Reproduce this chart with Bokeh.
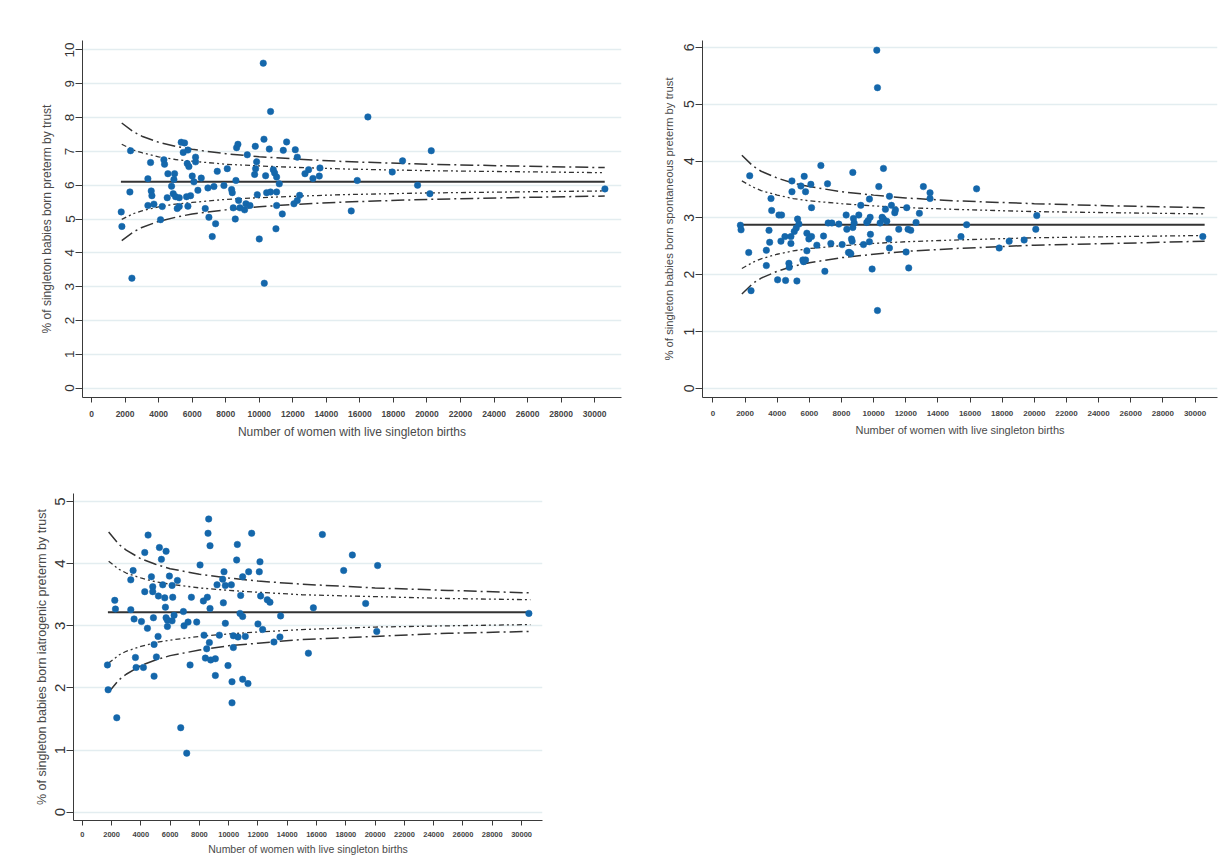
from bokeh.plotting import figure
from bokeh.layouts import column, row
from bokeh.models import FixedTicker, Range1d
from bokeh.embed import file_html
from bokeh.resources import INLINE

# ---------------- data ----------------
x_ticks = [0, 2000, 4000, 6000, 8000, 10000, 12000, 14000, 16000, 18000,
           20000, 22000, 24000, 26000, 28000, 30000]
x_title = "Number of women with live singleton births"

limit_n = [1800, 2500, 3000, 4000, 5000, 6000, 8000, 10000, 12000, 15000, 20000, 25000, 30600]
mean_line_n = [1750, 30600]

# Panel 1: all preterm
p1_title = "% of singleton babies born preterm by trust"
p1_yticks = [0, 1, 2, 3, 4, 5, 6, 7, 8, 9, 10]
p1_n = [10238, 10674, 1769, 1809, 2326, 2286, 2406, 3359, 3518, 3558, 3598, 3359, 3717,
        4114, 4214, 4313, 4353, 4552, 4950, 4910, 4771, 4512, 4870, 5009, 5108, 5228,
        5228, 5347, 5546, 5467, 5745, 5705, 5804, 5665, 5745, 5904, 6003, 6103, 6202,
        6202, 6341, 6540, 6779, 6938, 6998, 7296, 7396, 7197, 7495, 7893, 8092, 8350,
        8390, 8450, 8569, 8609, 8649, 8728, 8768, 8848, 9126, 9206, 9285, 9444, 9723,
        9763, 9783, 9842, 9882, 10001, 10280, 10379, 10439, 10598, 10674, 10836, 10916,
        11035, 10995, 11035, 11035, 11194, 11373, 11432, 11631, 12148, 12267, 12407,
        12267, 12068, 12725, 12943, 13201, 13579, 13619, 15485, 15843, 16478, 18545,
        17930, 20256, 19440, 20175, 30610, 10300]
p1_pct = [9.61, 8.18, 5.21, 4.78, 7.02, 5.80, 3.25, 6.19, 6.67, 5.83, 5.69, 5.40, 5.44,
          4.98, 5.37, 6.75, 6.62, 6.34, 6.34, 6.17, 5.97, 5.63, 5.75, 5.66, 5.31, 5.63,
          5.37, 7.27, 7.25, 6.97, 7.04, 6.64, 6.55, 5.66, 5.38, 5.69, 6.27, 6.10, 6.83,
          6.69, 5.85, 6.21, 5.31, 5.92, 5.05, 5.96, 4.86, 4.48, 6.41, 5.99, 6.49, 5.87,
          5.78, 5.33, 5.00, 6.14, 7.11, 7.21, 5.55, 5.33, 5.27, 5.45, 6.90, 5.40, 6.32,
          7.15, 6.49, 6.69, 5.72, 4.41, 7.36, 6.28, 5.78, 7.07, 5.80, 6.46, 6.36,
          6.24, 4.71, 5.80, 5.40, 6.04, 5.15, 7.03, 7.28, 7.05, 6.83, 5.70,
          5.55, 5.45, 6.34, 6.46, 6.20, 6.27, 6.51, 5.24, 6.14, 8.02, 6.72,
          6.39, 7.02, 6.00, 5.75, 5.89, 3.10]
p1_mean = 6.1
p1_up998 = [7.84, 7.58, 7.45, 7.27, 7.15, 7.06, 6.93, 6.84, 6.78, 6.70, 6.62, 6.57, 6.52]
p1_lo998 = [4.36, 4.62, 4.75, 4.93, 5.05, 5.15, 5.27, 5.36, 5.43, 5.50, 5.58, 5.63, 5.68]
p1_up95 = [7.21, 7.04, 6.96, 6.84, 6.76, 6.71, 6.62, 6.57, 6.53, 6.48, 6.43, 6.40, 6.37]
p1_lo95 = [4.99, 5.16, 5.24, 5.36, 5.44, 5.49, 5.58, 5.63, 5.67, 5.72, 5.77, 5.80, 5.83]

# Panel 2: spontaneous preterm
p2_title = "% of singleton babies born spontaneous preterm by trust"
p2_yticks = [0, 1, 2, 3, 4, 5, 6]
p2_n = [10197, 10238, 1708, 1749, 2288, 2226, 2371, 3613, 3655, 3489, 3530, 3323, 3323,
        4024, 4521, 5225, 4107, 4272, 4231, 4479, 4728, 4748, 4917, 4917, 4852, 4852,
        5059, 5183, 5266, 5349, 5473, 5680, 5763, 5598, 5763, 5639, 5846, 5846, 5970,
        6094, 6136, 6136, 6467, 6716, 6882, 6965, 7131, 7172, 7400, 7338, 7834, 8041,
        8290, 8331, 8435, 8497, 8580, 8621, 8663, 8704, 8704, 8745, 8787, 9077, 9201,
        9367, 9574, 9656, 9739, 9781, 9801, 9739, 9905, 10238, 10321, 10404, 10529,
        10611, 10611, 10735, 10818, 10984, 10943, 10984, 11108, 11315, 11356, 11563,
        12060, 12019, 12143, 12309, 12184, 12640, 12847, 13095, 13509, 13509, 16407,
        15787, 15436, 17814, 18435, 19366, 20153, 20091, 30485]
p2_pct = [5.95, 5.29, 2.87, 2.79, 3.74, 2.39, 1.72, 3.34, 3.13, 2.78, 2.57, 2.43, 2.16,
          1.91, 1.90, 1.89, 3.05, 3.05, 2.59, 2.67, 2.20, 2.13, 3.65, 3.46, 2.67, 2.55,
          2.76, 2.82, 2.98, 2.89, 3.56, 3.73, 3.46, 2.26, 2.26, 2.23, 2.73, 2.42, 2.63,
          3.59, 3.18, 2.67, 2.52, 3.92, 2.68, 2.06, 3.60, 2.91, 2.91, 2.55, 2.89, 2.53,
          3.05, 2.80, 2.39, 2.39, 2.37, 2.63, 2.59, 2.83, 3.80, 2.99, 2.91, 3.05, 3.22,
          2.53, 2.92, 2.95, 3.33, 3.01, 2.71, 2.58, 2.10, 1.37, 3.55, 2.91, 3.01,
          3.87, 2.98, 3.15, 2.94, 3.38, 2.63, 2.47, 3.22, 3.09, 3.14, 2.80,
          3.18, 2.40, 2.80, 2.78, 2.12, 2.92, 3.08, 3.55, 3.44, 3.34, 3.51,
          2.88, 2.67, 2.47, 2.59, 2.61, 3.04, 2.80, 2.67]
p2_mean = 2.88
p2_up998 = [4.10, 3.91, 3.82, 3.70, 3.61, 3.55, 3.46, 3.40, 3.35, 3.30, 3.25, 3.21, 3.18]
p2_lo998 = [1.66, 1.85, 1.94, 2.06, 2.15, 2.21, 2.30, 2.36, 2.41, 2.46, 2.52, 2.55, 2.59]
p2_up95 = [3.65, 3.54, 3.48, 3.40, 3.34, 3.30, 3.25, 3.21, 3.18, 3.15, 3.11, 3.09, 3.07]
p2_lo95 = [2.11, 2.22, 2.28, 2.36, 2.42, 2.46, 2.51, 2.55, 2.58, 2.61, 2.65, 2.67, 2.69]

# Panel 3: iatrogenic preterm
p3_title = "% of singleton babies born iatrogenic preterm by trust"
p3_yticks = [0, 1, 2, 3, 4, 5]
p3_n = [1718, 1764, 2218, 2264, 2355, 3311, 3470, 3311, 3538, 3629, 3675, 4039, 4175,
        4266, 4266, 4494, 4448, 4721, 4812, 4812, 4858, 4903, 4903, 5062, 5176, 5199,
        5267, 5404, 5495, 5631, 5677, 5722, 5722, 5813, 5813, 5950, 6132, 6132, 6177,
        6268, 6495, 6723, 6905, 7132, 6951, 7223, 7360, 7451, 7815, 8042, 8269, 8315,
        8406, 8497, 8542, 8633, 8588, 8724, 8724, 8679, 8770, 9088, 9088, 9202, 9361,
        9588, 9634, 9679, 9770, 9770, 9952, 10179, 10225, 10225, 10316, 10316, 10543,
        10589, 10634, 10771, 10816, 10952, 10952, 10952, 11134, 11316, 11362, 11566,
        11998, 12089, 12135, 12180, 12316, 12634, 12816, 13089, 13499, 13544, 16396,
        18443, 17851, 20170, 15782, 19352, 20110, 15441, 30500]
p3_pct = [2.37, 1.97, 3.41, 3.27, 1.52, 3.74, 3.89, 3.26, 3.11, 2.49, 2.33, 3.07, 2.33,
          4.18, 3.55, 4.46, 2.96, 3.79, 3.63, 3.55, 3.13, 2.70, 2.19, 2.50, 2.83, 3.48,
          4.26, 4.07, 3.66, 3.45, 3.30, 3.13, 4.20, 2.99, 3.09, 3.80, 3.65, 3.08, 3.46,
          3.17, 3.73, 1.36, 3.23, 0.95, 3.00, 3.06, 2.37, 3.46, 3.06, 3.98, 3.40, 2.85,
          2.48, 2.63, 3.46, 4.72, 4.49, 4.29, 3.28, 2.73, 2.45, 2.47, 2.20, 3.66, 2.85,
          3.75, 3.37, 3.87, 3.65, 3.04, 2.36, 3.66, 2.10, 1.76, 2.65, 2.84, 4.06,
          4.31, 2.82, 3.20, 3.49, 3.15, 3.79, 2.14, 2.83, 2.07, 3.87, 4.49,
          3.03, 3.87, 4.03, 3.48, 2.94, 3.42, 3.38, 2.74, 2.82, 3.16, 4.47,
          4.14, 3.89, 3.97, 3.29, 3.36, 2.91, 2.56, 3.20]
p3_mean = 3.22
p3_up998 = [4.51, 4.31, 4.22, 4.08, 3.99, 3.92, 3.83, 3.77, 3.72, 3.67, 3.61, 3.57, 3.53]
p3_lo998 = [1.93, 2.13, 2.22, 2.36, 2.45, 2.52, 2.61, 2.68, 2.72, 2.78, 2.83, 2.88, 2.91]
p3_up95 = [4.04, 3.91, 3.85, 3.77, 3.71, 3.67, 3.61, 3.57, 3.54, 3.50, 3.47, 3.44, 3.42]
p3_lo95 = [2.40, 2.53, 2.59, 2.67, 2.73, 2.77, 2.83, 2.87, 2.90, 2.94, 2.98, 3.00, 3.02]

# ---------------- styling ----------------
DOT = "#1467ab"
LINE = "#333333"
GRID = "#e3edf0"
FONT = "Liberation Sans"


def panel(n, pct, mean, up998, lo998, up95, lo95, ytitle, yticks, xr, yr,
          width, height, bl, br, bt, bb, ytick_fs, ytitle_fs, xtick_fs, xtitle_fs,
          ytitle_standoff, xlab_standoff, xtitle_standoff):
    p = figure(width=width, height=height, output_backend="svg", toolbar_location=None,
               x_range=Range1d(*xr), y_range=Range1d(*yr),
               min_border_left=bl, min_border_right=br, min_border_top=bt,
               min_border_bottom=bb)
    p.outline_line_color = None
    p.background_fill_color = "white"
    p.border_fill_color = "white"
    p.xgrid.visible = False
    p.ygrid.grid_line_color = GRID
    p.ygrid.grid_line_width = 1.5

    p.xaxis.ticker = FixedTicker(ticks=x_ticks)
    p.yaxis.ticker = FixedTicker(ticks=yticks)
    for ax in (p.xaxis, p.yaxis):
        ax.axis_line_color = "#3a3a3a"
        ax.major_tick_line_color = "#3a3a3a"
        ax.minor_tick_line_color = None
        ax.major_tick_in = 0
        ax.major_label_text_font = FONT
        ax.axis_label_text_font = FONT
        ax.axis_label_text_font_style = "normal"
        ax.axis_label_text_color = "#4a4a4a"
    p.xaxis.major_tick_out = 5
    p.yaxis.major_tick_out = 7
    p.yaxis.major_label_orientation = "parallel"
    p.yaxis.major_label_text_font_size = f"{ytick_fs}px"
    p.yaxis.major_label_text_color = "#333333"
    p.yaxis.major_label_standoff = 1
    p.yaxis.axis_label = ytitle
    p.yaxis.axis_label_text_font_size = f"{ytitle_fs}px"
    p.yaxis.axis_label_standoff = ytitle_standoff
    p.xaxis.major_label_text_font_size = f"{xtick_fs}px"
    p.xaxis.major_label_text_color = "#444444"
    p.xaxis.major_label_text_font_style = "bold"
    p.xaxis.major_label_standoff = xlab_standoff
    p.xaxis.axis_label = x_title
    p.xaxis.axis_label_text_font_size = f"{xtitle_fs}px"
    p.xaxis.axis_label_standoff = xtitle_standoff

    p.line(limit_n, up998, line_color=LINE, line_width=1.5, line_dash="13 4 2 4")
    p.line(limit_n, lo998, line_color=LINE, line_width=1.5, line_dash="13 4 2 4")
    p.line(limit_n, up95, line_color=LINE, line_width=1.3, line_dash="5 3 2 3 2 3")
    p.line(limit_n, lo95, line_color=LINE, line_width=1.3, line_dash="5 3 2 3 2 3")
    p.line(mean_line_n, [mean, mean], line_color=LINE, line_width=2)
    p.scatter(n, pct, size=6.5, fill_color=DOT, line_color=DOT, line_width=0.5)
    return p


p1 = panel(p1_n, p1_pct, p1_mean, p1_up998, p1_lo998, p1_up95, p1_lo95, p1_title,
           p1_yticks, (-540, 31600), (-0.28, 10.28),
           635, 470, 82, 14, 21, 73, 13.5, 12, 8.5, 12, 9, 8, 5)
p2 = panel(p2_n, p2_pct, p2_mean, p2_up998, p2_lo998, p2_up95, p2_lo95, p2_title,
           p2_yticks, (-650, 31400), (-0.16, 6.12),
           591, 470, 67, 9, 40, 72, 14, 11.3, 8, 11, 7, 8, 5)
p3 = panel(p3_n, p3_pct, p3_mean, p3_up998, p3_lo998, p3_up95, p3_lo95, p3_title,
           p3_yticks, (-600, 31430), (-0.134, 5.13),
           555, 398, 73, 13, 23, 48, 15, 12.5, 7.5, 10.5, 4, 6, 3)

layout = column(row(p1, p2), p3)
open("out.html", "w").write(file_html(layout, INLINE))
